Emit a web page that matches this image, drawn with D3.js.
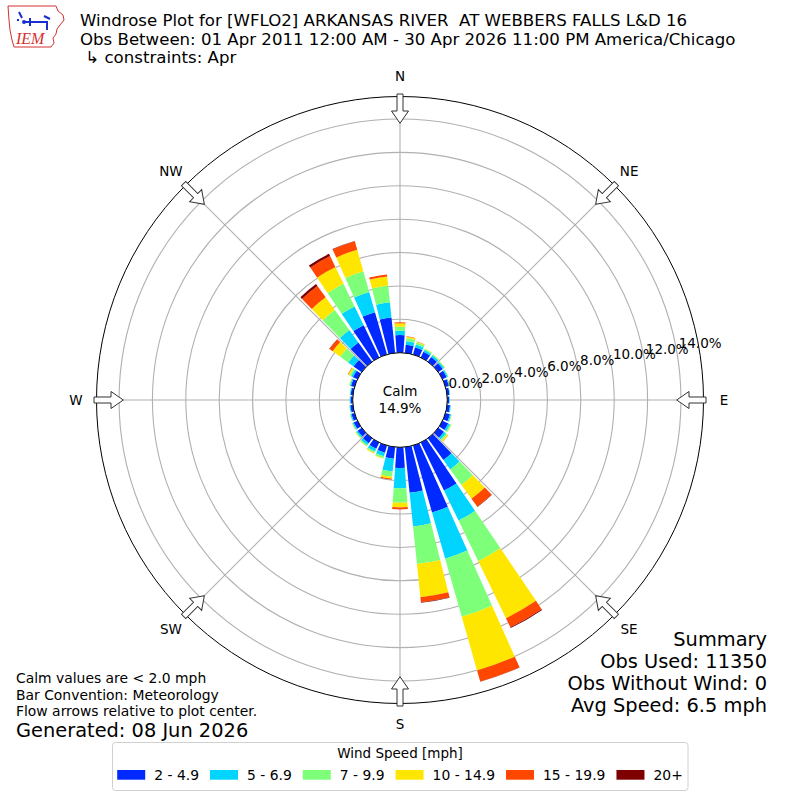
<!DOCTYPE html>
<html>
<head>
<meta charset="utf-8">
<script src="https://cdn.jsdelivr.net/npm/d3@7"></script>
<style>
  body { margin: 0; background: #fff; }
  text { font-family: "DejaVu Sans", sans-serif; fill: #000; }
</style>
</head>
<body>
<div id="chart"></div>
<script>
// wind direction sectors (degrees, meteorological convention)
let directions = [0, 10, 20, 30, 40, 50, 60, 70, 80, 90, 100, 110,
                  120, 130, 140, 150, 160, 170, 180, 190, 200, 210, 220, 230,
                  240, 250, 260, 270, 280, 290, 300, 310, 320, 330, 340, 350];

let speedLabels = ["2 - 4.9", "5 - 6.9", "7 - 9.9", "10 - 14.9", "15 - 19.9", "20+"];
let speedColors = ["#0029ff", "#00d4ff", "#7dff7a", "#ffe600", "#ff4700", "#7f0000"];

// percent of observations per direction, one list per speed bin
let speed2to5 = [1.06, 0.50, 0.45, 0.38, 0.35, 0.33, 0.28, 0.22, 0.15, 0.11, 0.18, 0.28,
                 0.38, 0.42, 1.60, 3.20, 4.18, 2.75, 1.24, 0.71, 0.45, 0.42, 0.36, 0.30,
                 0.25, 0.20, 0.16, 0.13, 0.14, 0.22, 0.30, 0.60, 1.42, 2.15, 2.64, 2.14];
let speed5to7 = [0.26, 0.20, 0.17, 0.12, 0.12, 0.10, 0.08, 0.05, 0.03, 0.03, 0.05, 0.08,
                 0.12, 0.14, 0.70, 2.00, 2.87, 2.03, 1.22, 0.76, 0.22, 0.18, 0.14, 0.10,
                 0.08, 0.06, 0.05, 0.04, 0.04, 0.07, 0.12, 0.40, 0.92, 1.25, 1.26, 0.91];
let speed7to10 = [0.24, 0.18, 0.13, 0.08, 0.06, 0.05, 0.03, 0.02, 0.01, 0.01, 0.02, 0.03,
                  0.08, 0.10, 1.15, 2.70, 3.62, 2.27, 0.86, 0.32, 0.12, 0.10, 0.08, 0.06,
                  0.04, 0.03, 0.02, 0.02, 0.02, 0.04, 0.10, 0.60, 1.49, 1.51, 1.28, 1.01];
let speed10to15 = [0.20, 0.10, 0.05, 0.02, 0.02, 0.02, 0.01, 0.01, 0.00, 0.00, 0.00, 0.01,
                   0.02, 0.08, 1.02, 3.80, 3.34, 1.99, 0.28, 0.12, 0.03, 0.04, 0.02, 0.02,
                   0.01, 0.01, 0.00, 0.00, 0.00, 0.02, 0.10, 0.55, 0.93, 1.12, 1.34, 0.55];
let speed15to20 = [0.06, 0.02, 0.01, 0.00, 0.00, 0.00, 0.00, 0.00, 0.00, 0.00, 0.00, 0.00,
                   0.00, 0.01, 0.58, 0.60, 0.70, 0.31, 0.12, 0.06, 0.00, 0.00, 0.00, 0.00,
                   0.00, 0.00, 0.00, 0.00, 0.00, 0.00, 0.03, 0.23, 0.84, 0.72, 0.53, 0.12];
let speed20plus = [0.00, 0.00, 0.00, 0.00, 0.00, 0.00, 0.00, 0.00, 0.00, 0.00, 0.00, 0.00,
                   0.00, 0.00, 0.03, 0.06, 0.01, 0.03, 0.00, 0.00, 0.00, 0.00, 0.00, 0.00,
                   0.00, 0.00, 0.00, 0.00, 0.00, 0.00, 0.00, 0.02, 0.14, 0.15, 0.02, 0.00];

let radialTicks = [0, 2, 4, 6, 8, 10, 12, 14];
let compassNames = ["N", "NE", "E", "SE", "S", "SW", "W", "NW"];
let compassAngles = [0, 45, 90, 135, 180, 225, 270, 315];

let titleLines = [
  "Windrose Plot for [WFLO2] ARKANSAS RIVER  AT WEBBERS FALLS L&D 16",
  "Obs Between: 01 Apr 2011 12:00 AM - 30 Apr 2026 11:00 PM America/Chicago",
  " \u21b3 constraints: Apr"
];
let summaryLines = ["Summary", "Obs Used: 11350", "Obs Without Wind: 0", "Avg Speed: 6.5 mph"];
let noteLines = ["Calm values are < 2.0 mph", "Bar Convention: Meteorology",
                 "Flow arrows relative to plot center."];
let calmValue = "14.9%";

let width = 800, height = 800;
let cx = 400, cy = 400;

let svg =
  d3.select("#chart")
    .append("svg")
      .attr("width", width)
      .attr("height", height);

let keys = ["s0", "s1", "s2", "s3", "s4", "s5"];
let bins = [speed2to5, speed5to7, speed7to10, speed10to15, speed15to20, speed20plus];
let rows = directions.map(function(d, i) {
  let row = {dir: d};
  keys.forEach(function(k, j) { row[k] = bins[j][i]; });
  return row;
});
let series = d3.stack().keys(keys)(rows);

let r =
  d3.scaleLinear()
    .domain([0, 15.35])
    .range([47.3, 303.5]);

let rad = Math.PI / 180;
let halfWidth = 4.1;

let polar = svg.append("g").attr("transform", translate(cx, cy));

// grid rings
polar.selectAll(".ring")
  .data(radialTicks)
  .enter().append("circle")
    .attr("r", d => r(d))
    .attr("fill", "none")
    .attr("stroke", "#b0b0b0")
    .attr("stroke-width", 1.1);

// grid spokes
polar.selectAll(".spoke")
  .data(compassAngles)
  .enter().append("line")
    .attr("x1", 0).attr("y1", 0)
    .attr("x2", d => r(15.35) * Math.sin(d * rad))
    .attr("y2", d => -r(15.35) * Math.cos(d * rad))
    .attr("stroke", "#b0b0b0")
    .attr("stroke-width", 1.1);

// stacked bars
let arc =
  d3.arc()
    .innerRadius(d => r(d[0]))
    .outerRadius(d => r(d[1]))
    .startAngle(d => (d.data.dir - halfWidth) * rad)
    .endAngle(d => (d.data.dir + halfWidth) * rad);

polar.selectAll(".bin")
  .data(series)
  .enter().append("g")
    .attr("fill", (d, i) => speedColors[i])
  .selectAll("path")
  .data(d => d.filter(s => s[1] - s[0] > 0))
  .enter().append("path")
    .attr("d", arc);

// calm circle
polar.append("circle")
  .attr("r", r(0))
  .attr("fill", "#fff")
  .attr("stroke", "#000")
  .attr("stroke-width", 1);

polar.append("text")
  .attr("text-anchor", "middle")
  .attr("y", -4)
  .style("font-size", "13.5px")
  .text("Calm");
polar.append("text")
  .attr("text-anchor", "middle")
  .attr("y", 12.5)
  .style("font-size", "13.5px")
  .text(calmValue);

// outer frame
polar.append("circle")
  .attr("r", r(15.35))
  .attr("fill", "none")
  .attr("stroke", "#000")
  .attr("stroke-width", 1);

// radial labels
let labelAngle = 80 * rad;
polar.selectAll(".rlabel")
  .data(radialTicks)
  .enter().append("text")
    .attr("x", d => r(d) * Math.sin(labelAngle) + 2)
    .attr("y", d => -r(d) * Math.cos(labelAngle) - 3.5)
    .style("font-size", "13.5px")
    .text(d => d3.format(".1f")(d) + "%");

// flow arrows
let arrowShape = [[0, -276.7], [8.5, -289], [3, -289], [3, -306], [-3, -306],
                  [-3, -289], [-8.5, -289]];
polar.selectAll(".arrow")
  .data(compassAngles)
  .enter().append("polygon")
    .attr("points", arrowShape.map(p => p.join(",")).join(" "))
    .attr("transform", d => "rotate(" + d + ")")
    .attr("fill", "#fff")
    .attr("stroke", "#333")
    .attr("stroke-width", 1);

// compass names
polar.selectAll(".cname")
  .data(compassNames)
  .enter().append("text")
    .attr("x", (d, i) => 324 * Math.sin(compassAngles[i] * rad))
    .attr("y", (d, i) => -324 * Math.cos(compassAngles[i] * rad))
    .attr("text-anchor", "middle")
    .attr("dominant-baseline", "central")
    .style("font-size", "13.5px")
    .text(d => d);

// titles
svg.selectAll(".title")
  .data(titleLines)
  .enter().append("text")
    .attr("x", 80)
    .attr("y", (d, i) => [26, 44.5, 62.5][i])
    .style("font-size", "16.6px")
    .style("white-space", "pre")
    .text(d => d);

// summary
svg.selectAll(".summary")
  .data(summaryLines)
  .enter().append("text")
    .attr("x", 767)
    .attr("y", (d, i) => 646 + i * 22)
    .attr("text-anchor", "end")
    .style("font-size", "19.4px")
    .text(d => d);

// notes
svg.selectAll(".note")
  .data(noteLines)
  .enter().append("text")
    .attr("x", 16)
    .attr("y", (d, i) => 683 + i * 16.5)
    .style("font-size", "13.9px")
    .text(d => d);

svg.append("text")
  .attr("x", 16)
  .attr("y", 737)
  .style("font-size", "19.4px")
  .text("Generated: 08 Jun 2026");

// legend
let legend = svg.append("g");
legend.append("rect")
  .attr("x", 112.5).attr("y", 742.5)
  .attr("width", 575.5).attr("height", 48)
  .attr("rx", 3)
  .attr("fill", "#fff")
  .attr("stroke", "#d0d0d0");
legend.append("text")
  .attr("x", 400).attr("y", 757.5)
  .attr("text-anchor", "middle")
  .style("font-size", "13.5px")
  .text("Wind Speed [mph]");

let items = legend.selectAll(".item")
  .data(speedLabels)
  .enter().append("g");
items.append("text")
  .attr("y", 779.5)
  .style("font-size", "13.9px")
  .text(d => d);
let pos = 0, offsets = [];
items.each(function(d, i) {
  offsets.push(pos);
  pos += 28 + 9 + this.querySelector("text").getComputedTextLength() + 11;
});
let start = 400 - (pos - 11) / 2;
items.attr("transform", (d, i) => translate(start + offsets[i], 0));
items.append("rect")
  .attr("x", 0).attr("y", 770)
  .attr("width", 28).attr("height", 9.7)
  .attr("fill", (d, i) => speedColors[i]);
items.select("text").attr("x", 37);

// IEM logo
let logo = svg.append("g");
logo.append("path")
  .attr("d", "M8,6 L56,6 L58,11 L63,15 L64,20 L60,25 L57,29 L56,34 L53,38 L54,43 L51,47 L14,47 L12,40 L10,30 L9,20 Z")
  .attr("fill", "none")
  .attr("stroke", "#d43030")
  .attr("stroke-width", 1);
logo.append("path")
  .attr("d", "M24,22 L48,22 M30,18 L30,26 M44,16 L50,19 M47,22 L47,30 M19,12 L22,18 M17,20 L19,20")
  .attr("stroke", "#1a2fd0")
  .attr("stroke-width", 2)
  .attr("fill", "none");
logo.append("circle").attr("cx", 24).attr("cy", 22).attr("r", 2).attr("fill", "#1a2fd0");
logo.append("text")
  .attr("x", 16).attr("y", 44)
  .style("font-family", "'Liberation Serif', serif")
  .style("font-style", "italic")
  .style("font-size", "16px")
  .style("fill", "#d43030")
  .text("IEM");

function translate(x, y=0) {
  return "translate({x}, {y})"
          .replace("{x}", x)
          .replace("{y}", y);
}
</script>
</body>
</html>
